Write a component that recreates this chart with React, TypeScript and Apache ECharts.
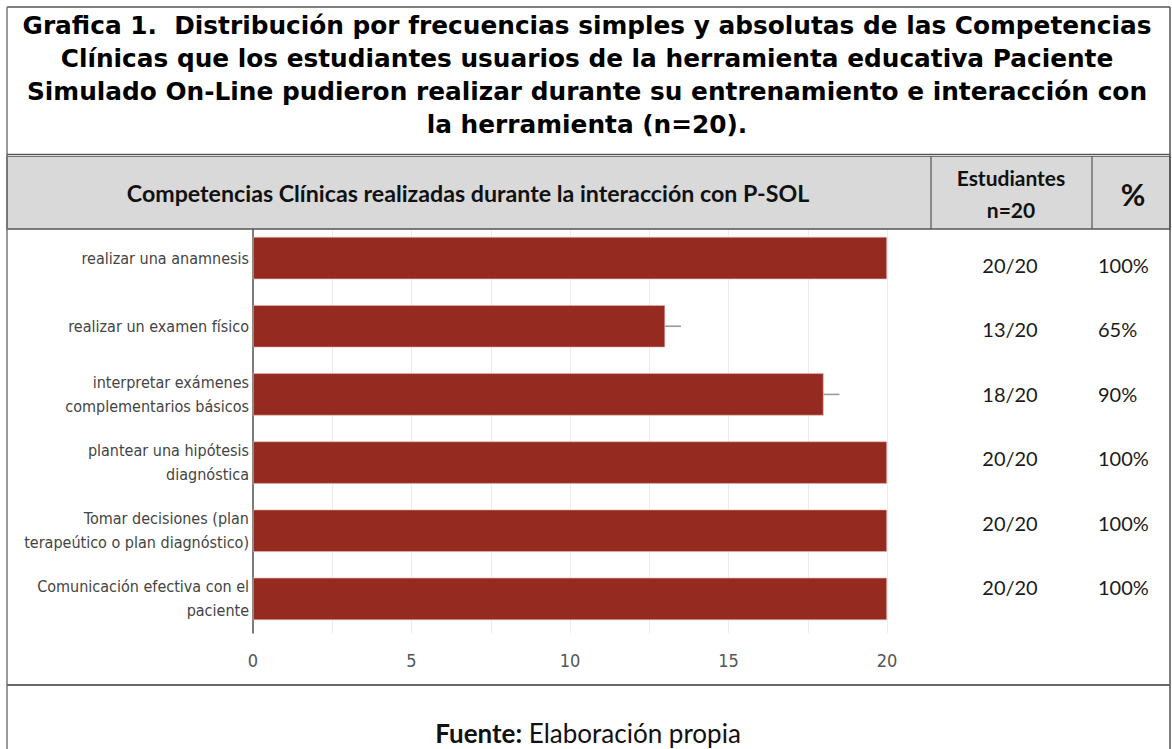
import React, { useEffect, useRef } from "react";
import * as echarts from "echarts";

const categories = [
  "realizar una anamnesis",
  "realizar un examen físico",
  "interpretar exámenes\ncomplementarios básicos",
  "plantear una hipótesis\ndiagnóstica",
  "Tomar decisiones (plan\nterapeútico o plan diagnóstico)",
  "Comunicación efectiva con el\npaciente",
];
const students = [20, 13, 18, 20, 20, 20];
const errorMargin = [0.5, 0.5, 0.5, 0.5, 0.5, 0.5];
const fractionLabels = ["20/20", "13/20", "18/20", "20/20", "20/20", "20/20"];
const percentLabels = ["100%", "65%", "90%", "100%", "100%", "100%"];
const xTickLabels = [0, 5, 10, 15, 20];

const titleLines = [
  "Grafica 1.  Distribución por frecuencias simples y absolutas de las Competencias",
  "Clínicas que los estudiantes usuarios de la herramienta educativa Paciente",
  "Simulado On-Line pudieron realizar durante su entrenamiento e interacción con",
  "la herramienta (n=20).",
];
const headerMain = "Competencias Clínicas realizadas durante la interacción con P-SOL";
const headerStudents = "Estudiantes\nn=20";
const headerPct = "%";

const BAR = "#952a20";
const BORDER = "#555555";
const CAL = "Lato, 'Open Sans', sans-serif";
const NARROW = "'DejaVu Sans Condensed', 'Liberation Sans', sans-serif";

export default function App() {
  const ref = useRef<HTMLDivElement>(null);
  useEffect(() => {
    if (!ref.current) return;
    const chart = echarts.init(ref.current, null, { renderer: "svg" });

    const rowTexts: any[] = [];
    fractionLabels.forEach((t, i) => {
      rowTexts.push({
        type: "text",
        x: 1010,
        y: 265 + i * 64.4,
        z: 50,
        style: { text: t, fill: "#1a1a1a", font: `20px ${CAL}`, textAlign: "center", textVerticalAlign: "middle" },
      });
      rowTexts.push({
        type: "text",
        x: 1098,
        y: 265 + i * 64.4,
        z: 50,
        style: { text: percentLabels[i], fill: "#1a1a1a", font: `20px ${CAL}`, textAlign: "left", textVerticalAlign: "middle" },
      });
    });

    chart.setOption({
      animation: false,
      backgroundColor: "#ffffff",
      grid: { left: 253, top: 224, width: 634, height: 409, containLabel: false },
      xAxis: {
        type: "value",
        min: 0,
        max: 20,
        interval: 2.5,
        axisLine: { show: false },
        axisTick: { show: false },
        splitLine: { show: true, lineStyle: { color: "#ececec", width: 1 } },
        axisLabel: {
          margin: 18,
          color: "#555555",
          fontFamily: NARROW,
          fontSize: 18,
          formatter: (v: number) => (xTickLabels.includes(v) ? String(v) : ""),
        },
      },
      yAxis: {
        type: "category",
        inverse: true,
        data: categories,
        axisTick: { show: false },
        axisLine: { show: true, lineStyle: { color: "#555555", width: 1.5 } },
        axisLabel: {
          margin: 4,
          color: "#444444",
          fontFamily: NARROW,
          fontSize: 16,
          lineHeight: 24,
          align: "right",
        },
      },
      series: [
        {
          type: "bar",
          data: students,
          barCategoryGap: "38%",
          itemStyle: { color: BAR, borderColor: "#e9b7b0", borderWidth: 0.6 },
          z: 2,
        },
        {
          type: "custom",
          clip: true,
          z: 3,
          data: students.map((v, i) => [i, v, errorMargin[i]]),
          renderItem: (params: any, api: any) => {
            const idx = api.value(0);
            const v = api.value(1);
            const e = api.value(2);
            const p1 = api.coord([v, idx]);
            const p2 = api.coord([v + e, idx]);
            return {
              type: "line",
              shape: { x1: p1[0], y1: p1[1], x2: p2[0], y2: p2[1] },
              style: { stroke: "#9a9a9a", lineWidth: 1.6 },
            };
          },
        },
      ],
      graphic: [
        { type: "rect", z: 40, shape: { x: 7, y: 156, width: 1163, height: 73 }, style: { fill: "#d9d9d9", stroke: BORDER, lineWidth: 1.5 } },
        { type: "rect", z: 40, shape: { x: 7, y: 0, width: 1163, height: 156 }, style: { fill: "#ffffff" } },
        { type: "line", z: 45, shape: { x1: 7, y1: 7, x2: 1170, y2: 7 }, style: { stroke: BORDER, lineWidth: 1.5 } },
        { type: "line", z: 45, shape: { x1: 7, y1: 7, x2: 7, y2: 749 }, style: { stroke: "#777777", lineWidth: 1.5 } },
        { type: "line", z: 45, shape: { x1: 1170, y1: 7, x2: 1170, y2: 749 }, style: { stroke: BORDER, lineWidth: 1.5 } },
        { type: "line", z: 45, shape: { x1: 7, y1: 154.5, x2: 1170, y2: 154.5 }, style: { stroke: BORDER, lineWidth: 1.5 } },
        { type: "line", z: 45, shape: { x1: 931, y1: 156, x2: 931, y2: 229 }, style: { stroke: BORDER, lineWidth: 1.2 } },
        { type: "line", z: 45, shape: { x1: 1092, y1: 156, x2: 1092, y2: 229 }, style: { stroke: BORDER, lineWidth: 1.2 } },
        { type: "line", z: 45, shape: { x1: 7, y1: 685, x2: 1170, y2: 685 }, style: { stroke: "#666666", lineWidth: 2 } },
        {
          type: "text",
          z: 50,
          x: 587,
          y: 75,
          style: {
            text: titleLines.join("\n"),
            font: "bold 24.8px 'DejaVu Sans', Verdana, sans-serif",
            lineHeight: 33,
            fill: "#000000",
            textAlign: "center",
            textVerticalAlign: "middle",
          },
        },
        {
          type: "text",
          z: 50,
          x: 468,
          y: 193,
          style: { text: headerMain, font: `bold 23.2px ${CAL}`, fill: "#111111", textAlign: "center", textVerticalAlign: "middle" },
        },
        {
          type: "text",
          z: 50,
          x: 1011,
          y: 193,
          style: { text: headerStudents, font: `bold 21px ${CAL}`, lineHeight: 32, fill: "#111111", textAlign: "center", textVerticalAlign: "middle" },
        },
        {
          type: "text",
          z: 50,
          x: 1133,
          y: 194,
          style: { text: headerPct, font: `bold 30px ${CAL}`, fill: "#111111", textAlign: "center", textVerticalAlign: "middle" },
        },
        ...rowTexts,
        {
          type: "text",
          z: 50,
          x: 588,
          y: 733,
          style: {
            text: "{b|Fuente:} Elaboración propia",
            font: `26px ${CAL}`,
            fill: "#111111",
            textAlign: "center",
            textVerticalAlign: "middle",
            rich: { b: { font: `bold 26px ${CAL}`, fill: "#111111" } },
          },
        },
      ],
    });
    return () => chart.dispose();
  }, []);
  return (
    <div
      ref={ref}
      style={{ position: "absolute", left: 0, top: 0, width: 1172, height: 749 }}
    />
  );
}
